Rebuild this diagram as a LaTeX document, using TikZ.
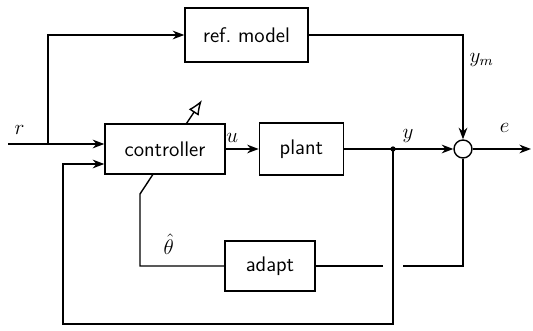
\documentclass[tikz,border=0pt]{standalone}
\usepackage{amsmath}
\usepackage{tikz}
\usetikzlibrary{positioning, arrows.meta, calc, backgrounds}

\begin{document}
\begin{tikzpicture}[
			thick,
			>=Stealth,
			% Style for the blocks
			block/.style={
				rectangle,
				draw,
				fill=white,
				minimum width=2.4cm,
				minimum height=1.0cm,
				font=\sffamily\large
			},
			% Style for the summing junction
			sumjunc/.style={
				circle,
				draw,
				fill=white,
				minimum size=0.36cm,
				inner sep=0pt
			},
			% Style for signal labels
			sig/.style={font=\large}
			]
			\useasboundingbox (0,0) rectangle (10.66,6.62);
			
			% --- BLOCKS ---
			\node[block] (Ctrl) at (3.3,3.64) {controller};
			\node[block, minimum width=1.68cm, minimum height=1.04cm, right=0.66cm of Ctrl] (Plant) {plant};
			\node[block, minimum width=2.46cm, minimum height=1.08cm] (Ref) at (4.93,5.92) {ref.\ model};
			\node[block, minimum width=1.8cm] (Adapt) at (5.4,1.3) {adapt};
			\node[sumjunc] (Sum) at (9.26,3.64) {};
			
			% --- HELPER POINTS ---
			\coordinate (rIn) at (0.16,3.74);
			\coordinate (rBr) at (0.96,3.74);
			\coordinate (cIn1) at ($(Ctrl.west)+(0,0.1)$);
			\coordinate (cIn2) at ($(Ctrl.west)+(0,-0.3)$);
			\coordinate (yBr) at (7.86,3.64);
			\coordinate (eOut) at (10.62,3.64);
			\coordinate (fbL) at (1.26,0.14);
			\coordinate (gapL) at ($(yBr |- Adapt.east)+(-0.2,0)$);
			\coordinate (gapR) at ($(yBr |- Adapt.east)+(0.2,0)$);
			\coordinate (pBend) at (2.8,2.74);
			\coordinate (pTip) at (4.04,4.62);
			
			% --- SIGNALS ---
			% reference input
			\draw[->] (rIn) node[sig, above right=0.05cm and 0cm] {$r$} -- (cIn1);
			\draw[->] (rBr) |- (Ref.west);
			
			% model output
			\draw[->] (Ref.east) -| node[sig, pos=0.62, right] {$y_m$} (Sum.north);
			
			% control and plant output
			\draw[->] (Ctrl.east) -- node[sig, pos=0.2, above] {$u$} (Plant.west);
			\draw[->] (Plant.east) -- (yBr) -- node[sig, pos=0.25, above] {$y$} (Sum.west);
			\fill (yBr) circle (1.5pt);
			
			% error
			\draw[->] (Sum.east) -- node[sig, pos=0.55, above=0.2cm] {$e$} (eOut);
			
			% error to adaptation (broken where it crosses)
			\draw (Sum.south) |- (gapR);
			\draw (gapL) -- (Adapt.east);
			
			% output feedback
			\draw[->] (yBr) |- (fbL) |- (cIn2);
			
			% parameter estimate (goes through the controller)
			\begin{scope}[on background layer]
				\draw[line width=0.8pt, -{Latex[open, length=3mm, width=2.4mm]}] (Adapt.west) -| node[sig, pos=0.33, above=3pt] {$\hat{\theta}$} (pBend) -- (pTip);
			\end{scope}
			
		\end{tikzpicture}
\end{document}
